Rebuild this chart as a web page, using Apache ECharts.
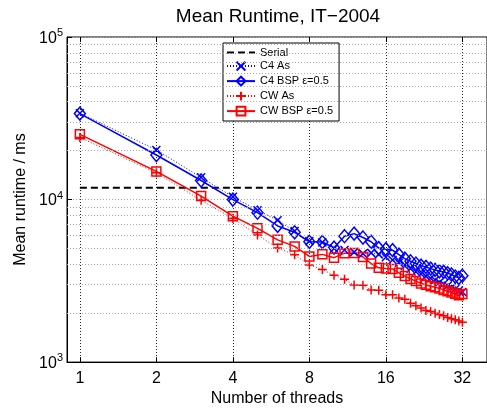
<!DOCTYPE html>
<html><head><meta charset="utf-8">
<script src="https://cdn.jsdelivr.net/npm/echarts@6/dist/echarts.min.js"></script>
<style>html,body{margin:0;padding:0;background:#fff}#c{width:487px;height:412px}</style>
</head><body><div id="c"></div>
<script>
const threads = [1,2,3,4,5,6,7,8,9,10,11,12,13,14,15,16,17,18,19,20,21,22,23,24,25,26,27,28,29,30,31,32];
const serialValue = 11800;
const c4As = [34000,20200,13700,10400,8600,7450,6400,5550,5450,5000,4900,4750,4650,4700,4600,4420,4250,4080,3900,3750,3600,3480,3380,3280,3200,3100,3020,2950,2880,2820,2760,2700];
const c4Bsp = [33800,18800,13100,10000,8300,6880,6290,5500,5480,5060,5950,6170,5840,5500,5030,4950,4880,4580,4330,4170,4040,3920,3850,3760,3690,3620,3590,3520,3460,3360,3300,3400];
const cwAs = [24100,14600,9900,7650,6050,5030,4570,3960,3710,3420,3230,2980,2970,2780,2770,2600,2600,2480,2440,2300,2220,2150,2080,2050,2000,1960,1930,1880,1850,1820,1790,1760];
const cwBsp = [25200,14900,10500,7900,6650,5650,5150,4470,4600,4390,4680,4690,4430,4040,3800,3760,3740,3540,3380,3250,3150,3050,2990,2930,2890,2840,2780,2730,2680,2630,2580,2620];
const minorY = [2000,3000,4000,5000,6000,7000,8000,9000,20000,30000,40000,50000,60000,70000,80000,90000];
const xTicks = [1,2,4,8,16,32];
const seriesNames = ['Serial','C4 As','C4 BSP \u03b5=0.5','CW As','CW BSP \u03b5=0.5'];

const FONT = 'Liberation Sans';
const pair = arr => threads.map((t, i) => [t, arr[i]]);
const xPath = 'path://M0,0L10,10M10,0L0,10';
const plusPath = 'path://M5,0L5,10M0,5L10,5';
const BLUE = '#0000ff', RED = '#ff0000';

const chart = echarts.init(document.getElementById('c'), null, {renderer: 'canvas'});
const xAxisBase = {
  type: 'log', logBase: 2, min: 0.89, max: 40,
};
chart.setOption({
  animation: false,
  title: {
    text: 'Mean Runtime, IT\u22122004', left: 273, top: 2, textAlign: 'center',
    textStyle: {fontFamily: FONT, fontSize: 19, fontWeight: 'normal', color: '#000'}
  },
  legend: {
    data: [{name: seriesNames[0], itemStyle: {opacity: 0}}].concat(seriesNames.slice(1)),
    orient: 'vertical', left: 223, top: 43,
    padding: [4, 6, 3, 3], itemGap: 1.2, itemWidth: 28, itemHeight: 11,
    backgroundColor: '#fff', borderColor: '#000', borderWidth: 1,
    textStyle: {fontFamily: FONT, fontSize: 11, color: '#000'}
  },
  grid: {left: 67, top: 37, right: -6, bottom: 47, show: true, borderColor: '#000', borderWidth: 1, backgroundColor: 'transparent'},
  xAxis: [Object.assign({}, xAxisBase, {
    position: 'bottom',
    name: 'Number of threads', nameLocation: 'middle', nameGap: 26,
    nameTextStyle: {fontFamily: FONT, fontSize: 16, color: '#000'},
    axisLine: {show: true, lineStyle: {color: '#000', width: 1}},
    axisTick: {show: true, inside: true, length: 5, lineStyle: {color: '#000'}},
    axisLabel: {
      fontFamily: FONT, fontSize: 16, color: '#000', margin: 8,
      showMinLabel: false, showMaxLabel: false,
      formatter: v => xTicks.indexOf(Math.round(v)) >= 0 && Math.abs(v - Math.round(v)) < 1e-6 ? String(Math.round(v)) : ''
    },
    splitLine: {show: true, lineStyle: {color: '#222', type: [1, 2], width: 1}}
  }), Object.assign({}, xAxisBase, {
    position: 'top',
    axisLine: {show: false},
    axisTick: {show: true, inside: true, length: 5, lineStyle: {color: '#000'}},
    axisLabel: {show: false},
    splitLine: {show: false}
  })],
  yAxis: {
    type: 'log', logBase: 10, min: 1000, max: 100000,
    name: 'Mean runtime / ms', nameLocation: 'middle', nameGap: 34,
    nameTextStyle: {fontFamily: FONT, fontSize: 16, color: '#000'},
    axisLine: {show: true, lineStyle: {color: '#000', width: 1}},
    axisTick: {show: true, inside: true, length: 5, lineStyle: {color: '#000'}},
    axisLabel: {
      margin: 4,
      formatter: v => '{b|10}{s|' + Math.round(Math.log10(v)) + '}',
      rich: {
        b: {fontFamily: FONT, fontSize: 16, color: '#000', verticalAlign: 'bottom'},
        s: {fontFamily: FONT, fontSize: 11, color: '#000', verticalAlign: 'bottom', padding: [0, 0, 8, 0]}
      }
    },
    splitLine: {show: true, lineStyle: {color: '#aaa', type: [1, 2], width: 1}}
  },
  series: [
    {
      name: 'grid-minor', type: 'line', data: [], silent: true, z: 0,
      markLine: {
        silent: true, symbol: 'none', label: {show: false}, animation: false,
        lineStyle: {color: '#aaa', type: [1, 2], width: 1},
        data: minorY.map(v => ({yAxis: v}))
      }
    },
    {
      name: seriesNames[0], type: 'line', data: [[threads[0], serialValue], [threads[threads.length - 1], serialValue]],
      symbol: 'none', lineStyle: {color: '#000', type: [7, 4], width: 2}, itemStyle: {color: '#000'}
    },
    {
      name: seriesNames[1], type: 'line', data: pair(c4As),
      symbol: xPath, symbolSize: 8,
      lineStyle: {color: BLUE, type: [1, 2], width: 1},
      itemStyle: {color: 'none', borderColor: BLUE, borderWidth: 1.5}
    },
    {
      name: seriesNames[2], type: 'line', data: pair(c4Bsp),
      symbol: 'diamond', symbolSize: [11, 13],
      lineStyle: {color: BLUE, width: 1.5},
      itemStyle: {color: 'none', borderColor: BLUE, borderWidth: 1.5}
    },
    {
      name: seriesNames[3], type: 'line', data: pair(cwAs),
      symbol: plusPath, symbolSize: 9,
      lineStyle: {color: RED, type: [1, 2], width: 1},
      itemStyle: {color: 'none', borderColor: RED, borderWidth: 1.5}
    },
    {
      name: seriesNames[4], type: 'line', data: pair(cwBsp),
      symbol: 'rect', symbolSize: 9,
      lineStyle: {color: RED, width: 1.5},
      itemStyle: {color: 'none', borderColor: RED, borderWidth: 1.5}
    }
  ]
});
</script></body></html>
